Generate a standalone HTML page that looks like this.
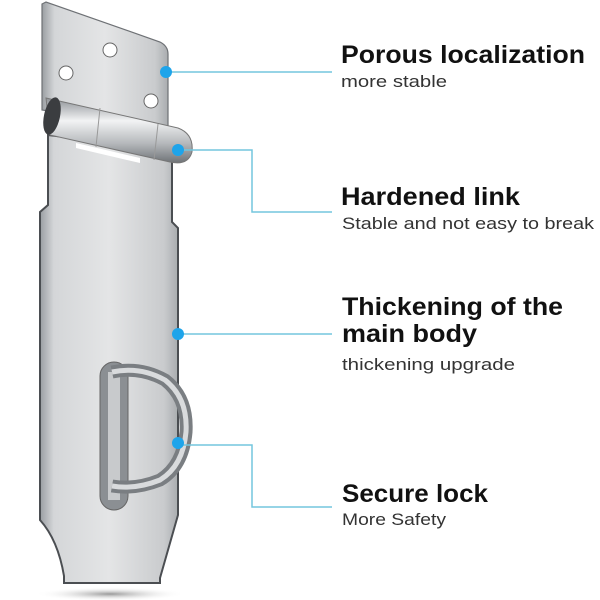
<!DOCTYPE html>
<html><head><meta charset="utf-8"><style>html,body{margin:0;padding:0;background:#fff}svg{display:block}</style></head>
<body>
<svg width="600" height="600" viewBox="0 0 600 600" xmlns="http://www.w3.org/2000/svg">
<defs>
<linearGradient id="metal" x1="0" y1="0" x2="1" y2="0">
<stop offset="0" stop-color="#9a9ea2"/><stop offset="0.1" stop-color="#d4d6d8"/><stop offset="0.5" stop-color="#e4e5e6"/><stop offset="0.9" stop-color="#c9cbcd"/><stop offset="1" stop-color="#a9acaf"/></linearGradient>
<linearGradient id="barrel" x1="0" y1="0" x2="0" y2="1">
<stop offset="0" stop-color="#8d9196"/><stop offset="0.35" stop-color="#f2f3f4"/><stop offset="0.7" stop-color="#b5b8bb"/><stop offset="1" stop-color="#6f7377"/></linearGradient>
<radialGradient id="shadow"><stop offset="0" stop-color="#555" stop-opacity="0.6"/><stop offset="1" stop-color="#fff" stop-opacity="0"/></radialGradient>
</defs>
<ellipse cx="110" cy="594" rx="75" ry="7" fill="url(#shadow)"/>
<!-- top plate -->
<path d="M42,4 L46,2 L160,42 Q168,46 168,54 L168,130 L42,110 Z" fill="url(#metal)" stroke="#6e7175" stroke-width="1.2"/>
<circle cx="110" cy="50" r="7" fill="#fff" stroke="#666"/>
<circle cx="66" cy="73" r="7" fill="#fff" stroke="#666"/>
<circle cx="151" cy="101" r="7" fill="#fff" stroke="#666"/>
<!-- body -->
<path d="M48,135 L172,150 L172,222 L178,228 L178,515 L160,578 L160,583 L64,583 L64,576 Q58,540 40,520 L40,212 L48,205 Z" fill="url(#metal)" stroke="#4b4e52" stroke-width="2"/>
<!-- hinge -->
<path d="M46,98 L178,128 Q194,134 192,152 Q188,166 170,162 L50,135 Z" fill="url(#barrel)" stroke="#777" stroke-width="1"/>
<ellipse cx="52" cy="116" rx="8" ry="19" fill="#3b3d40" transform="rotate(12 52 116)"/>
<line x1="100" y1="108" x2="96" y2="147" stroke="#999"/>
<line x1="158" y1="124" x2="154" y2="160" stroke="#999"/>
<path d="M76,143 L140,158 L140,163 L76,148 Z" fill="#fff"/>
<!-- slot and D ring -->
<rect x="100" y="362" width="28" height="148" rx="14" fill="#8b8f93" stroke="#666"/>
<rect x="108" y="372" width="12" height="128" fill="#c8cacc"/>
<path d="M112,372 Q140,366 165,380 Q188,398 186,432 Q183,466 160,480 Q135,490 112,486" fill="none" stroke="#7a7e82" stroke-width="13"/>
<path d="M112,372 Q140,366 165,380 Q188,398 186,432 Q183,466 160,480 Q135,490 112,486" fill="none" stroke="#d9dbdd" stroke-width="5"/>
<!-- connectors -->
<g stroke="#73c6de" stroke-width="1.5" fill="none">
<path d="M166,72 H332"/>
<path d="M178,150 H252 V212 H332"/>
<path d="M178,334 H332"/>
<path d="M178,445 H252 V507 H332"/>
</g>
<g fill="#1ea4ea">
<circle cx="166" cy="72" r="6"/><circle cx="178" cy="150" r="6"/><circle cx="178" cy="334" r="6"/><circle cx="178" cy="443" r="6"/>
</g>
<g font-family="Liberation Sans, sans-serif" fill="#111">
<text x="341" y="63" font-size="25" font-weight="bold" textLength="244" lengthAdjust="spacingAndGlyphs">Porous localization</text>
<text x="341" y="87" font-size="17" fill="#333" textLength="106" lengthAdjust="spacingAndGlyphs">more stable</text>
<text x="341" y="205" font-size="25" font-weight="bold" textLength="179" lengthAdjust="spacingAndGlyphs">Hardened link</text>
<text x="342" y="229" font-size="17" fill="#333" textLength="252" lengthAdjust="spacingAndGlyphs">Stable and not easy to break</text>
<text x="342" y="315" font-size="25" font-weight="bold" textLength="221" lengthAdjust="spacingAndGlyphs">Thickening of the</text>
<text x="342" y="342" font-size="25" font-weight="bold" textLength="135" lengthAdjust="spacingAndGlyphs">main body</text>
<text x="342" y="370" font-size="17" fill="#333" textLength="173" lengthAdjust="spacingAndGlyphs">thickening upgrade</text>
<text x="342" y="502" font-size="25" font-weight="bold" textLength="146" lengthAdjust="spacingAndGlyphs">Secure lock</text>
<text x="342" y="525" font-size="17" fill="#333" textLength="104" lengthAdjust="spacingAndGlyphs">More Safety</text>
</g>
</svg>
</body></html>
